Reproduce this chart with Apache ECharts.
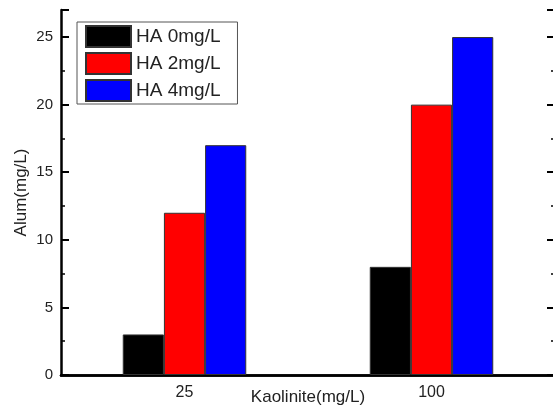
<!DOCTYPE html>
<html>
<head>
<meta charset="utf-8">
<script src="https://cdn.jsdelivr.net/npm/echarts@6/dist/echarts.min.js"></script>
<style>
html,body{margin:0;padding:0;background:#fff;}
#chart{width:553px;height:407px;}
</style>
</head>
<body>
<div id="chart"></div>
<script>
const categories = ['25', '100'];
const seriesNames = ['HA 0mg/L', 'HA 2mg/L', 'HA 4mg/L'];
const ha0 = [3, 8];
const ha2 = [12, 20];
const ha4 = [17, 25];
const colors = ['#000000', '#ff0000', '#0000ff'];

const FONT = '"Liberation Sans", Arial, sans-serif';
const chart = echarts.init(document.getElementById('chart'), null, {renderer: 'canvas'});
const values = [ha0, ha2, ha4];

const option = {
  animation: false,
  backgroundColor: '#ffffff',
  textStyle: {fontFamily: FONT},
  grid: {left: 61, top: 10, width: 494, height: 365, containLabel: false, outerBoundsMode: 'none'},
  legend: {
    orient: 'vertical',
    left: 77, top: 22,
    padding: [3, 17, 2, 8],
    itemWidth: 45, itemHeight: 21, itemGap: 4,
    icon: 'rect',
    borderColor: '#555', borderWidth: 1,
    backgroundColor: '#fff',
    textStyle: {fontFamily: FONT, fontSize: 19, color: '#222', padding: [0, 0, 0, 0]},
    data: seriesNames
  },
  xAxis: [{
    type: 'category',
    data: categories,
    position: 'bottom',
    name: 'Kaolinite(mg/L)',
    nameLocation: 'middle',
    nameGap: 14,
    nameMoveOverlap: false,
    nameTextStyle: {fontFamily: FONT, fontSize: 17, color: '#222'},
    axisLine: {show: true, lineStyle: {color: '#000', width: 2.5}},
    axisTick: {show: false},
    axisLabel: {fontFamily: FONT, fontSize: 16, color: '#222', margin: 10},
    splitLine: {show: false}
  }, {
    type: 'category',
    data: categories,
    position: 'top',
    axisLine: {show: true, lineStyle: {color: '#000', width: 2.5}},
    axisTick: {show: false},
    axisLabel: {show: false},
    splitLine: {show: false}
  }],
  yAxis: [{
    type: 'value',
    min: 0, max: 27, interval: 5,
    position: 'left',
    name: 'Alum(mg/L)',
    nameLocation: 'middle',
    nameGap: 31,
    nameMoveOverlap: false,
    nameTextStyle: {fontFamily: FONT, fontSize: 17, color: '#222'},
    axisLine: {show: true, lineStyle: {color: '#000', width: 2.5}},
    axisTick: {show: true, inside: true, length: 8, lineStyle: {color: '#000', width: 2}},
    minorTick: {show: true, splitNumber: 2, length: 4, lineStyle: {color: '#000', width: 1.5}},
    axisLabel: {fontFamily: FONT, fontSize: 15, color: '#222', margin: 8,
      formatter: v => (v % 5 === 0 ? String(v) : '')},
    splitLine: {show: false}
  }, {
    type: 'value',
    min: 0, max: 27, interval: 5,
    position: 'right',
    axisLine: {show: true, lineStyle: {color: '#000', width: 2.5}},
    axisTick: {show: true, inside: true, length: 8, lineStyle: {color: '#000', width: 2}},
    minorTick: {show: true, splitNumber: 2, length: 4, lineStyle: {color: '#000', width: 1.5}},
    axisLabel: {show: false},
    splitLine: {show: false}
  }],
  series: seriesNames.map((name, i) => ({
    name: name,
    type: 'bar',
    xAxisIndex: 0,
    yAxisIndex: 0,
    data: values[i],
    barGap: '0%',
    barCategoryGap: '50%',
    itemStyle: {color: colors[i], borderColor: '#333', borderWidth: 1}
  }))
};
chart.setOption(option);
</script>
</body>
</html>
